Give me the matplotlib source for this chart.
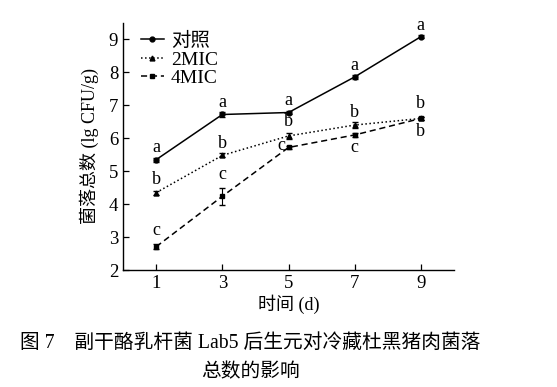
import matplotlib
matplotlib.use("Agg")
import matplotlib.pyplot as plt
from matplotlib.lines import Line2D

plt.rcParams['font.family'] = ['Liberation Serif', 'Noto Sans CJK SC']

days = [1, 3, 5, 7, 9]
control = [5.35, 6.72, 6.78, 7.86, 9.08]
control_err = [0.06, 0.07, 0.06, 0.05, 0.05]
mic2 = [4.35, 5.48, 6.07, 6.40, 6.60]
mic2_err = [0.06, 0.06, 0.10, 0.08, 0.04]
mic4 = [2.71, 4.24, 5.72, 6.10, 6.60]
mic4_err = [0.08, 0.25, 0.05, 0.07, 0.04]
series_names = ['对照', '2MIC', '4MIC']
control_letters = ['a', 'a', 'a', 'a', 'a']
mic2_letters = ['b', 'b', 'b', 'b', 'b']
mic4_letters = ['c', 'c', 'c', 'c', 'b']

fig = plt.figure(figsize=(5.57, 3.87), dpi=100)
ax = fig.add_axes([0.221, 0.302, 0.594, 0.639])

styles = [('-', 'o', None), (':', '^', None), ('--', 's', (4, 2.5))]
handles = []
for ys, es, name, (ls, mk, dsh) in zip([control, mic2, mic4],
                                       [control_err, mic2_err, mic4_err],
                                       series_names, styles):
    kw = dict(dashes=dsh) if dsh else {}
    ax.errorbar(days, ys, yerr=es, fmt=ls + mk, color='black', ms=3.5,
                lw=1.1, capsize=2, elinewidth=0.8, **kw)
    handles.append(Line2D([], [], color='black', ls=ls, marker=mk, ms=3.5,
                          lw=1.1, label=name, **kw))

fs_letter = 13
ctrl_off = [(0, 0.3)] * 5
mic2_off = [(0, 0.35), (0, 0.3), (0, 0.35), (0, 0.3), (0, 0.4)]
mic4_off = [(0, 0.4), (0, 0.4), (-0.22, 0.02), (0, -0.3), (0, -0.35)]
for xs, ys, errs, letters, offs in [
        (days, control, control_err, control_letters, ctrl_off),
        (days, mic2, mic2_err, mic2_letters, mic2_off),
        (days, mic4, mic4_err, mic4_letters, mic4_off)]:
    for x, y, e, t, (dx, dy) in zip(xs, ys, errs, letters, offs):
        ax.text(x + dx, y + dy + (e if dy > 0 else -e if dy < 0 else 0), t,
                ha='center', va='center', fontsize=fs_letter)

ax.set_xlim(0, 10)
ax.set_ylim(2, 9.5)
ax.set_xticks(days)
ax.set_yticks([2, 3, 4, 5, 6, 7, 8, 9])
ax.tick_params(direction='in', labelsize=13.5, length=4, width=0.9)
for s in ['top', 'right']:
    ax.spines[s].set_visible(False)
for s in ['left', 'bottom']:
    ax.spines[s].set_linewidth(1.0)

ax.set_xlabel('时间 (d)', fontsize=13, labelpad=2)
ax.set_ylabel('菌落总数 (lg CFU/g)', fontsize=13, labelpad=7)

ax.legend(handles=handles, loc='upper left', bbox_to_anchor=(0.03, 0.995),
          frameon=False, fontsize=14, handlelength=1.2, handletextpad=0.35,
          labelspacing=0.05, borderaxespad=0)

fig.text(0.449, 0.113, '图 7　副干酪乳杆菌 Lab5 后生元对冷藏杜黑猪肉菌落',
         ha='center', va='center', fontsize=14.2)
fig.text(0.449, 0.036, '总数的影响', ha='center', va='center', fontsize=14.2)

fig.savefig('out.png', dpi=100)
